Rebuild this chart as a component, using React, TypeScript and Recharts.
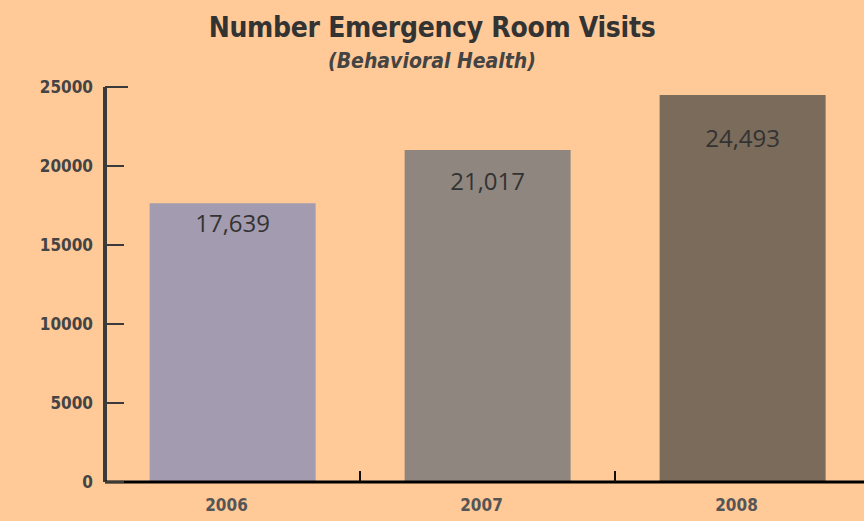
import React from 'react';
import { BarChart, Bar, XAxis, YAxis, Cell, LabelList } from 'recharts';

const years = ['2006', '2007', '2008'];
const visits = [17639, 21017, 24493];
const barColors = ['#A39BAF', '#8F877F', '#7A6B5B'];
const yTicks = [0, 5000, 10000, 15000, 20000, 25000];

const data = years.map((year, i) => ({ year, visits: visits[i] }));

const BG = '#FFC998';
const BAND = 255;
const FONT = "'Liberation Sans Narrow', 'DejaVu Sans Condensed', sans-serif";
// how far below each bar top the value label sits (as in the original artwork)
const labelDrop = [21, 32, 44];

const YTick = (props: any) => {
  const { x, y, payload } = props;
  const axisX = x + 12;
  return (
    <g>
      <line x1={axisX} x2={axisX + (payload.value === 25000 ? 23 : 19)} y1={y} y2={y} stroke="#3a3a3a" strokeWidth={2} />
      <text x={x} y={y} dy={6} textAnchor="end" fontFamily={FONT} fontWeight="bold" fontSize={17} fill="#444">
        {payload.value}
      </text>
    </g>
  );
};

const XTick = (props: any) => {
  const { x, y, payload, index } = props;
  const axisY = y - 2;
  return (
    <g>
      {index < years.length && (
        <line x1={x + BAND / 2} x2={x + BAND / 2} y1={axisY} y2={axisY - 11} stroke="#111" strokeWidth={2} />
      )}
      <text x={x - 6} y={axisY + 29} textAnchor="middle" fontFamily={FONT} fontWeight="bold" fontSize={17} fill="#555">
        {payload.value}
      </text>
    </g>
  );
};

const ValueLabel = (props: any) => {
  const { x, y, width, value, index } = props;
  return (
    <text
      x={x + width / 2}
      y={y + labelDrop[index]}
      dy={8}
      textAnchor="middle"
      fontFamily="'Open Sans', 'Liberation Sans', sans-serif"
      fontSize={24}
      fill="#333"
    >
      {Number(value).toLocaleString('en-US')}
    </text>
  );
};

export default function App() {
  return (
    <div
      style={{
        position: 'absolute',
        left: 0,
        top: 0,
        width: 864,
        height: 521,
        overflow: 'hidden',
        background: BG,
      }}
    >
      <div
        style={{
          position: 'absolute',
          top: 11,
          width: 864,
          textAlign: 'center',
          fontFamily: FONT,
          fontWeight: 'bold',
          fontSize: 28,
          color: '#333',
          letterSpacing: -0.3,
        }}
      >
        Number Emergency Room Visits
      </div>
      <div
        style={{
          position: 'absolute',
          top: 49,
          width: 864,
          textAlign: 'center',
          fontFamily: FONT,
          fontWeight: 'bold',
          fontStyle: 'italic',
          fontSize: 21,
          color: '#444',
        }}
      >
        (Behavioral Health)
      </div>
      <div style={{ position: 'absolute', left: 0, top: 0 }}>
        <BarChart
          width={872}
          height={521}
          data={data}
          margin={{ top: 87, right: 2, bottom: 9, left: 0 }}
          barCategoryGap="17.5%"
        >
          <YAxis
            domain={[0, 25000]}
            ticks={yTicks}
            width={105}
            tickSize={0}
            tickMargin={12}
            tick={<YTick />}
            axisLine={{ stroke: '#3a3a3a', strokeWidth: 4 }}
            tickLine={false}
          />
          <XAxis
            dataKey="year"
            height={30}
            tickSize={0}
            tickMargin={2}
            tick={<XTick />}
            axisLine={{ stroke: '#000', strokeWidth: 3 }}
            tickLine={false}
          />
          <Bar dataKey="visits" isAnimationActive={false}>
            {data.map((d, i) => (
              <Cell key={d.year} fill={barColors[i]} />
            ))}
            <LabelList dataKey="visits" content={<ValueLabel />} />
          </Bar>
        </BarChart>
      </div>
    </div>
  );
}
